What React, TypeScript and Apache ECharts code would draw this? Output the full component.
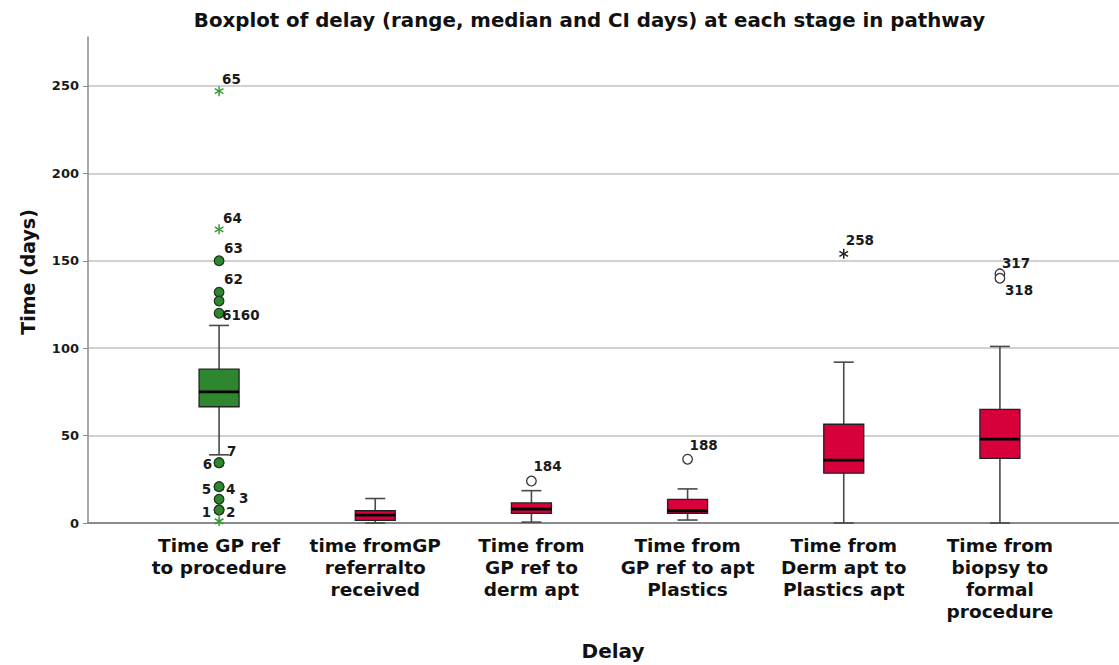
import React, { useEffect, useRef } from "react";
import * as echarts from "echarts";

// ---- data ----
const categories = [
  "Time GP ref\nto procedure",
  "time fromGP\nreferralto\nreceived",
  "Time from\nGP ref to\nderm apt",
  "Time from\nGP ref to apt\nPlastics",
  "Time from\nDerm apt to\nPlastics apt",
  "Time from\nbiopsy to\nformal\nprocedure",
];
const boxMin = [39, 0, 0.5, 1.7, 0, 0];
const boxQ1 = [66.5, 1.5, 5.5, 5.5, 28.5, 37];
const boxMedian = [75, 4.5, 8, 7, 36, 48];
const boxQ3 = [88, 7, 11.5, 13.5, 56.5, 65];
const boxMax = [113, 14, 18.5, 19.5, 92, 101];

// outliers: category index, value, kind, case label
const outlierCat = [0, 0, 0, 0, 0, 0, 0, 0, 0, 0, 0, 0, 0, 0, 2, 3, 4, 5, 5];
const outlierValue = [247, 168, 150, 132, 127, 120, 34.5, 34.5, 20.8, 20.8, 13.6, 7.4, 7.4, 1, 24, 36.5, 154, 142.5, 140];
const outlierKind = ["star", "star", "circle", "circle", "circle", "circle", "circle", "circle", "circle", "circle", "circle", "circle", "circle", "star", "circle", "circle", "star", "circle", "circle"];
const outlierLabel = ["65", "64", "63", "62", "", "6160", "6", "7", "5", "4", "3", "1", "2", "", "184", "188", "258", "317", "318"];

const yTicks = { min: 0, max: 278, interval: 50 };

// ---- styles ----
const boxColors = ["#2e862e", "#d8003a", "#d8003a", "#d8003a", "#d8003a", "#d8003a"];
const starColors = ["#3a9a3a", "#3a9a3a", "#3a9a3a", "#3a9a3a", "#222222", "#222222"];
const FONT = "'DejaVu Sans', 'Liberation Sans', Arial, sans-serif";
// label placement relative to point: [dx, dy, align]
const labelPlacement: Record<string, [number, number, string]> = {
  "65": [3, -12, "left"],
  "64": [4, -11, "left"],
  "63": [5, -13, "left"],
  "62": [5, -13, "left"],
  "6160": [3, 2, "left"],
  "6": [-7, 1, "right"],
  "7": [8, -12, "left"],
  "5": [-8, 2, "right"],
  "4": [7, 2, "left"],
  "3": [20, -1, "left"],
  "1": [-8, 2, "right"],
  "2": [7, 2, "left"],
  "184": [2, -15, "left"],
  "188": [2, -14, "left"],
  "258": [2, -14, "left"],
  "317": [2, -11, "left"],
  "318": [5, 12, "left"],
};

export default function App() {
  const ref = useRef<HTMLDivElement>(null);
  useEffect(() => {
    if (!ref.current) return;
    const chart = echarts.init(ref.current, null, { renderer: "svg" });

    const boxData = categories.map((_, i) => [i, boxMin[i], boxQ1[i], boxMedian[i], boxQ3[i], boxMax[i]]);
    const outData = outlierCat.map((c, i) => [c, outlierValue[i]]);

    const renderBox = (params: any, api: any) => {
      const i = api.value(0);
      const lo = api.coord([i, api.value(1)]);
      const q1 = api.coord([i, api.value(2)]);
      const med = api.coord([i, api.value(3)]);
      const q3 = api.coord([i, api.value(4)]);
      const hi = api.coord([i, api.value(5)]);
      const x = lo[0];
      const bw = 40;
      const cw = 20;
      const wStyle = { stroke: "#4a4a4a", lineWidth: 1.6 };
      return {
        type: "group",
        children: [
          { type: "line", shape: { x1: x, y1: hi[1], x2: x, y2: q3[1] }, style: wStyle },
          { type: "line", shape: { x1: x, y1: q1[1], x2: x, y2: lo[1] }, style: wStyle },
          { type: "line", shape: { x1: x - cw / 2, y1: hi[1], x2: x + cw / 2, y2: hi[1] }, style: wStyle },
          { type: "line", shape: { x1: x - cw / 2, y1: lo[1], x2: x + cw / 2, y2: lo[1] }, style: wStyle },
          {
            type: "rect",
            shape: { x: x - bw / 2, y: q3[1], width: bw, height: q1[1] - q3[1] },
            style: { fill: boxColors[i], stroke: "#222", lineWidth: 1.3 },
          },
          {
            type: "line",
            shape: { x1: x - bw / 2, y1: med[1], x2: x + bw / 2, y2: med[1] },
            style: { stroke: "#000", lineWidth: 2.8 },
          },
        ],
      };
    };

    const renderOutlier = (params: any, api: any) => {
      const idx = params.dataIndex;
      const c = api.value(0);
      const p = api.coord([c, api.value(1)]);
      const kind = outlierKind[idx];
      const children: any[] = [];
      if (kind === "circle") {
        children.push({
          type: "circle",
          shape: { cx: p[0], cy: p[1], r: 4.8 },
          style: c === 0 ? { fill: "#2e862e", stroke: "#1d3d1d", lineWidth: 1.3 } : { fill: "#fff", stroke: "#333", lineWidth: 1.3 },
        });
      } else {
        const r = 5;
        const col = starColors[c];
        [90, 30, 150].forEach((deg) => {
          const a = (deg * Math.PI) / 180;
          children.push({
            type: "line",
            shape: { x1: p[0] - r * Math.cos(a), y1: p[1] - r * Math.sin(a), x2: p[0] + r * Math.cos(a), y2: p[1] + r * Math.sin(a) },
            style: { stroke: col, lineWidth: 1.5 },
          });
        });
      }
      const lab = outlierLabel[idx];
      if (lab) {
        const pl = labelPlacement[lab] || [3, -12, "left"];
        children.push({
          type: "text",
          x: p[0] + pl[0],
          y: p[1] + pl[1],
          style: {
            text: lab,
            fill: "#1a1a1a",
            font: `bold 13.5px ${FONT}`,
            align: pl[2],
            verticalAlign: "middle",
          },
        });
      }
      return { type: "group", children };
    };

    chart.setOption({
      animation: false,
      backgroundColor: "#fff",
      textStyle: { fontFamily: FONT },
      grid: [
        { left: 88, right: 0, top: 37, bottom: 142 },
        { left: 141, width: 937, top: 37, bottom: 142 },
      ],
      xAxis: [
        {
          type: "value",
          gridIndex: 0,
          min: 0,
          max: 1,
          axisLabel: { show: false },
          axisTick: { show: false },
          splitLine: { show: false },
          axisLine: { show: true, lineStyle: { color: "#8a8a8a", width: 2 } },
        },
        {
          type: "category",
          gridIndex: 1,
          data: categories,
          axisLine: { show: false },
          axisTick: { show: false },
          axisLabel: {
            interval: 0,
            margin: 11,
            color: "#111",
            fontFamily: FONT,
            fontWeight: "bold",
            fontSize: 18.5,
            lineHeight: 22,
            align: "center",
          },
        },
      ],
      yAxis: [
        {
          type: "value",
          gridIndex: 0,
          min: yTicks.min,
          max: yTicks.max,
          interval: yTicks.interval,
          axisLine: { show: true, lineStyle: { color: "#8a8a8a", width: 1.5 } },
          axisTick: { show: true, length: 5, lineStyle: { color: "#8a8a8a" } },
          axisLabel: {
            showMaxLabel: false,
            margin: 9,
            color: "#1a1a1a",
            fontFamily: FONT,
            fontWeight: "bold",
            fontSize: 13,
          },
          splitLine: { show: true, showMaxLine: false, showMinLine: false, lineStyle: { color: "#c2c2c2", width: 1.5 } },
        },
        {
          type: "value",
          gridIndex: 1,
          min: yTicks.min,
          max: yTicks.max,
          show: false,
          splitLine: { show: false },
        },
      ],
      graphic: [
        {
          type: "text",
          x: 589.5,
          y: 20,
          style: {
            text: "Boxplot of delay (range, median and CI days) at each stage in pathway",
            font: `bold 19.8px ${FONT}`,
            fill: "#111",
            align: "center",
            verticalAlign: "middle",
          },
        },
        {
          type: "text",
          x: 28,
          y: 272,
          rotation: Math.PI / 2,
          style: {
            text: "Time (days)",
            font: `bold 19px ${FONT}`,
            fill: "#111",
            align: "center",
            verticalAlign: "middle",
          },
        },
        {
          type: "text",
          x: 613,
          y: 651,
          style: {
            text: "Delay",
            font: `bold 20px ${FONT}`,
            fill: "#111",
            align: "center",
            verticalAlign: "middle",
          },
        },
      ],
      series: [
        {
          type: "custom",
          xAxisIndex: 1,
          yAxisIndex: 1,
          renderItem: renderBox,
          encode: { x: 0, y: [1, 2, 3, 4, 5] },
          data: boxData,
          z: 3,
        },
        {
          type: "custom",
          xAxisIndex: 1,
          yAxisIndex: 1,
          renderItem: renderOutlier,
          encode: { x: 0, y: 1 },
          data: outData,
          z: 4,
        },
      ],
    });
    return () => chart.dispose();
  }, []);
  return <div ref={ref} style={{ position: "fixed", left: 0, top: 0, width: 1119, height: 665 }} />;
}
